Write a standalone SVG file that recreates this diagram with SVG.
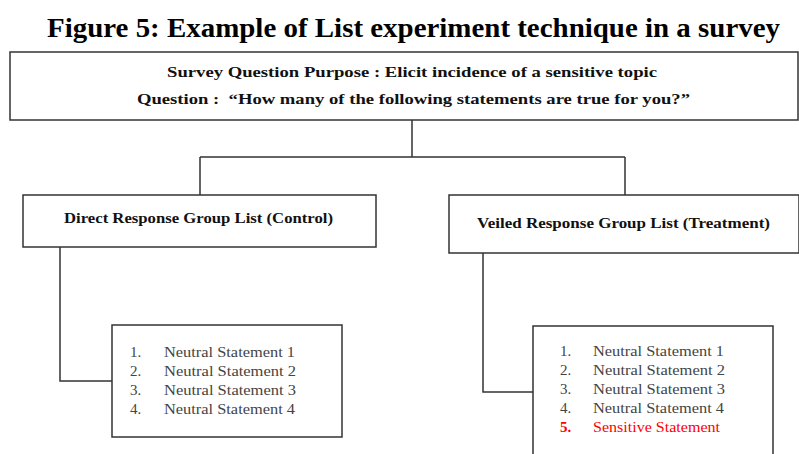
<svg xmlns="http://www.w3.org/2000/svg" width="799" height="454" viewBox="0 0 799 454">
<style>
.box{fill:#fff;stroke:#333;stroke-width:1.5}
.con{fill:none;stroke:#333;stroke-width:1.5}
.title{font-family:"Liberation Serif",serif;font-weight:bold;font-size:27px;fill:#000}
.hd{font-family:"Liberation Serif",serif;font-weight:bold;font-size:15px;fill:#111}
.li{font-family:"Liberation Serif",serif;font-size:15px;fill:#444}
.red{fill:#f00}
</style>
<rect width="799" height="454" fill="#fff"/>
<text class="title" x="47" y="37" textLength="733" lengthAdjust="spacingAndGlyphs">Figure 5: Example of List experiment technique in a survey</text>
<g id="connectors">
<path class="con" d="M412 120 V157 M200 157 H625 M200 157 V195 M625 157 V195"/>
<path class="con" d="M60 247 V381 H112"/>
<path class="con" d="M483 253 V392 H533"/>
</g>
<g id="top">
<rect class="box" x="10" y="52" width="788" height="68"/>
<text class="hd" x="167" y="77" textLength="490" lengthAdjust="spacingAndGlyphs">Survey Question Purpose : Elicit incidence of a sensitive topic</text>
<text class="hd" x="137" y="104" textLength="553" lengthAdjust="spacingAndGlyphs" xml:space="preserve">Question :  “How many of the following statements are true for you?”</text>
</g>
<g id="control">
<rect class="box" x="23" y="195" width="353" height="52"/>
<text class="hd" x="64" y="223" textLength="269" lengthAdjust="spacingAndGlyphs">Direct Response Group List (Control)</text>
</g>
<g id="treatment">
<rect class="box" x="449" y="195" width="350" height="58"/>
<text class="hd" x="477" y="228" textLength="293" lengthAdjust="spacingAndGlyphs">Veiled Response Group List (Treatment)</text>
</g>
<g id="control-list">
<rect class="box" x="112" y="325" width="230" height="112"/>
<text class="li" x="130" y="357">1.</text><text class="li" x="164" y="357" textLength="131" lengthAdjust="spacingAndGlyphs">Neutral Statement 1</text>
<text class="li" x="130" y="376">2.</text><text class="li" x="164" y="376" textLength="132" lengthAdjust="spacingAndGlyphs">Neutral Statement 2</text>
<text class="li" x="130" y="395">3.</text><text class="li" x="164" y="395" textLength="132" lengthAdjust="spacingAndGlyphs">Neutral Statement 3</text>
<text class="li" x="130" y="414">4.</text><text class="li" x="164" y="414" textLength="131" lengthAdjust="spacingAndGlyphs">Neutral Statement 4</text>
</g>
<g id="treatment-list">
<rect class="box" x="533" y="326" width="240" height="140"/>
<text class="li" x="560" y="356">1.</text><text class="li" x="593" y="356" textLength="131" lengthAdjust="spacingAndGlyphs">Neutral Statement 1</text>
<text class="li" x="560" y="375">2.</text><text class="li" x="593" y="375" textLength="132" lengthAdjust="spacingAndGlyphs">Neutral Statement 2</text>
<text class="li" x="560" y="394">3.</text><text class="li" x="593" y="394" textLength="132" lengthAdjust="spacingAndGlyphs">Neutral Statement 3</text>
<text class="li" x="560" y="413">4.</text><text class="li" x="593" y="413" textLength="131" lengthAdjust="spacingAndGlyphs">Neutral Statement 4</text>
<text class="li red" x="560" y="432" font-weight="bold">5.</text><text class="li red" x="593" y="432" textLength="127" lengthAdjust="spacingAndGlyphs">Sensitive Statement</text>
</g>
</svg>
